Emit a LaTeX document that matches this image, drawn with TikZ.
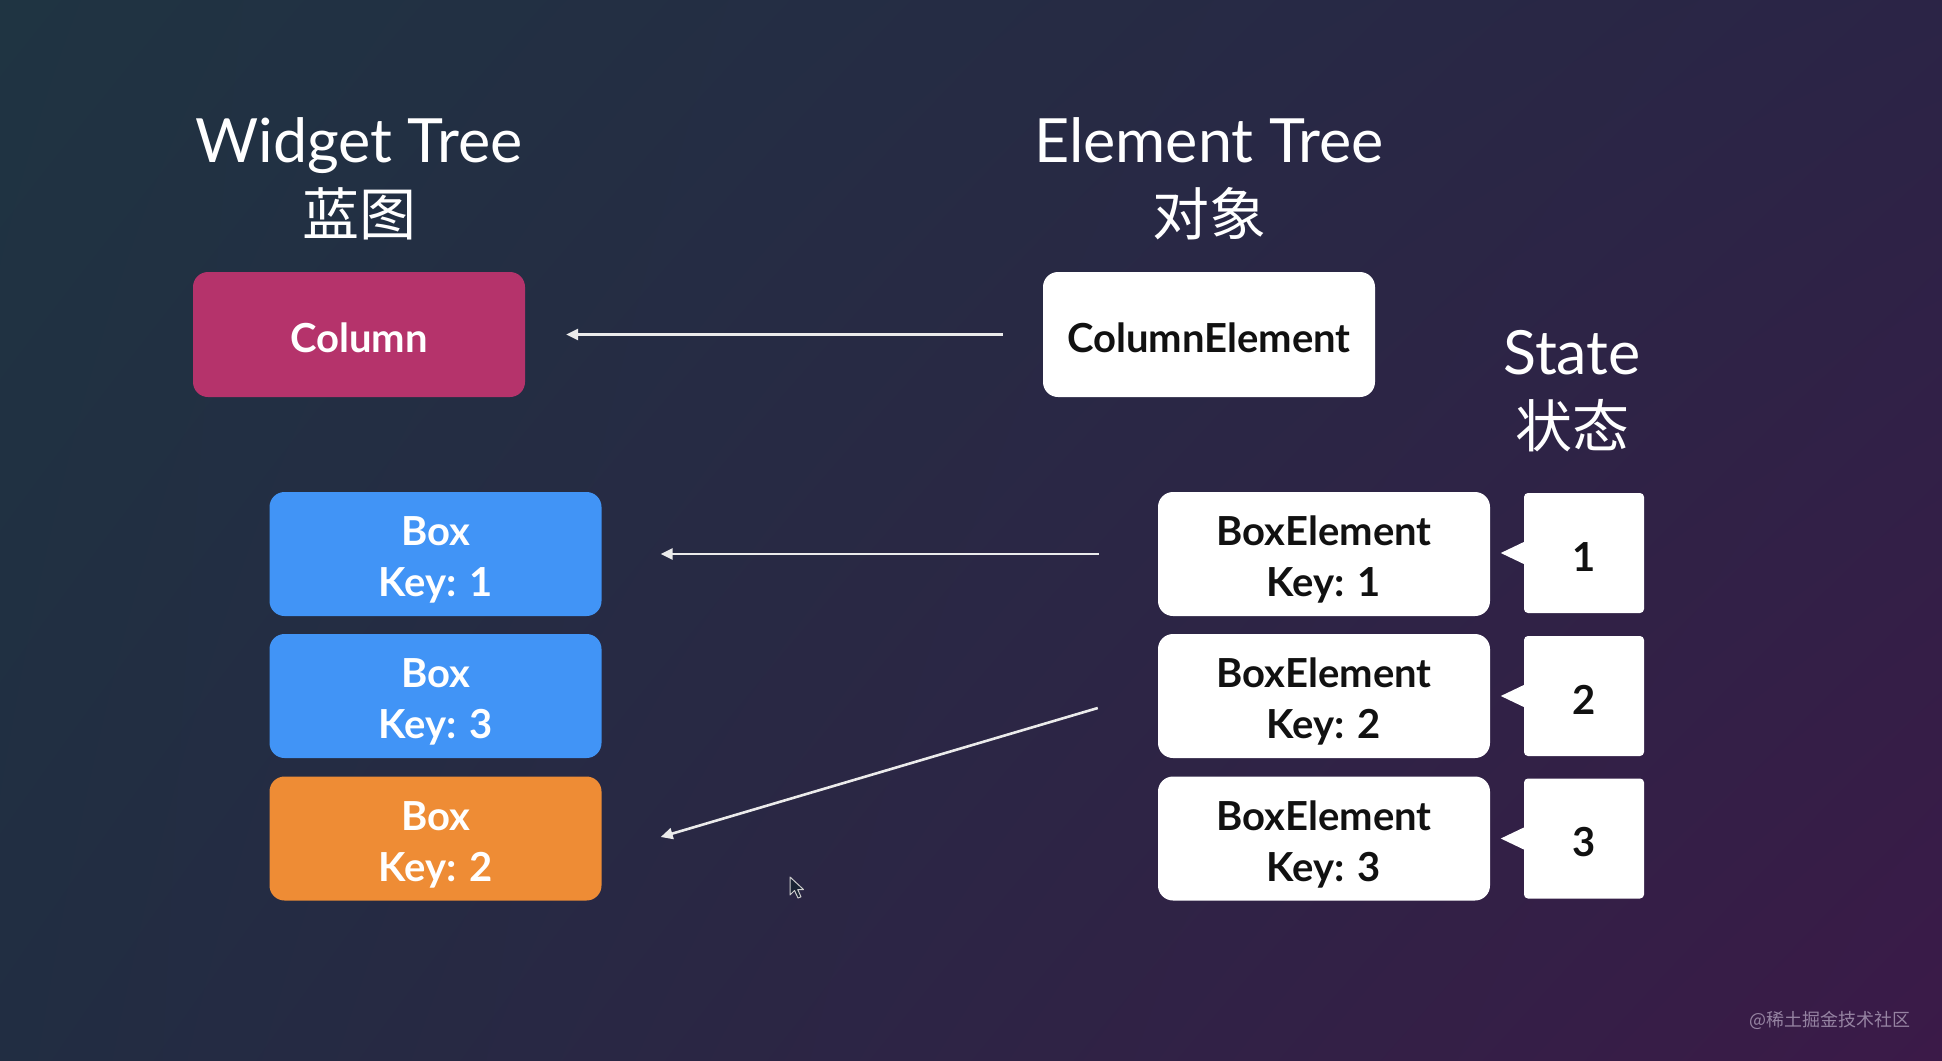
\documentclass[tikz,border=0pt]{standalone}
\usepackage{fontspec}
\setmainfont{Lato}
\newfontfamily\cjk{Noto Sans CJK SC}
\usetikzlibrary{arrows.meta,shadings,calc}
\definecolor{bgUL}{HTML}{1F3442}
\definecolor{bgUR}{HTML}{2B2446}
\definecolor{bgLL}{HTML}{212D42}
\definecolor{bgLR}{HTML}{3B1A48}
\definecolor{colmag}{HTML}{B5336B}
\definecolor{boxblue}{HTML}{4194F6}
\definecolor{boxorange}{HTML}{EE8C35}
\definecolor{inktext}{HTML}{111111}
\definecolor{wmark}{HTML}{A08FAC}
\newcommand{\twolines}[2]{\rule{0pt}{41pt}#1\\#2}
\newcommand{\oneline}[1]{\rule{0pt}{36pt}#1}
\tikzset{
  titletext/.style={text=white,font=\fontsize{61}{61}\selectfont,anchor=base},
  cjktext/.style={text=white,font=\cjk\fontsize{57}{57}\selectfont,anchor=base},
  treebox/.style={rounded corners=15pt,minimum width=332pt,minimum height=124pt,inner sep=0pt,
    font=\bfseries\fontsize{40}{51}\selectfont,align=center},
  widgetbox/.style={treebox,text=white},
  elembox/.style={treebox,fill=white,text=inktext},
  statebox/.style={rounded corners=4pt,fill=white,minimum width=120pt,minimum height=120pt,inner sep=0pt,
    font=\bfseries\fontsize{40}{40}\selectfont,text=inktext},
  conn/.style={draw=white!92!black,line width=2.6pt,-{Triangle[length=12pt,width=11pt]}}
}
\begin{document}
\begin{tikzpicture}[x=1pt,y=-1pt]
\useasboundingbox (0,0) rectangle (1942,1060);
\shade[upper left=bgUL,upper right=bgUR,lower left=bgLL,lower right=bgLR] (0,0) rectangle (1942,1060);

% titles
\node[titletext] (wt) at (359,162) {Widget Tree};
\node[cjktext] (wtc) at (359,235) {蓝图};
\node[titletext] (et) at (1209,162) {Element Tree};
\node[cjktext] (etc) at (1209,235) {对象};
\node[titletext] (st) at (1572,374) {State};
\node[cjktext] (stc) at (1572,447) {状态};

% widget tree
\node[widgetbox,fill=colmag,minimum height=125pt] (col) at (359,334.5) {\oneline{Column}};
\node[widgetbox,fill=boxblue] (b1) at (435.5,554) {\twolines{Box}{Key: 1}};
\node[widgetbox,fill=boxblue] (b3) at (435.5,696) {\twolines{Box}{Key: 3}};
\node[widgetbox,fill=boxorange] (b2) at (435.5,838.5) {\twolines{Box}{Key: 2}};

% element tree
\node[elembox,minimum height=125pt] (ce) at (1209,334.5) {\oneline{ColumnElement}};
\node[elembox] (be1) at (1324,554) {\twolines{BoxElement}{Key: 1}};
\node[elembox] (be2) at (1324,696) {\twolines{BoxElement}{Key: 2}};
\node[elembox] (be3) at (1324,838.5) {\twolines{BoxElement}{Key: 3}};

% states
\foreach \n/\y in {1/553,2/696,3/838.5}{
  \node[statebox] (s\n) at (1584,\y) {\rule{0pt}{36pt}\n};
  \fill[white] ([yshift=-11pt]s\n.west) -- ([xshift=-23pt]s\n.west) -- ([yshift=11pt]s\n.west) -- cycle;
}

% connectors
\draw[conn,shorten <=40pt,shorten >=41pt] (ce.west) -- (col.east);
\draw[conn,shorten <=59pt,shorten >=59pt] (be1.west) -- (b1.east);
\draw[conn] ($(be2.west)+(-60,12)$) -- ($(b2.east)+(59,-1.5)$);

% mouse cursor
\draw[fill=bgLL!80!black,draw=white!80!black,line width=1pt,line join=round]
  (790,877) -- (790,895) -- (794.5,890.5) -- (798,898) -- (801,896.8) -- (797.7,889.5) -- (803.5,889.5) -- cycle;

% watermark
\node[text=wmark,opacity=0.9,font=\cjk\fontsize{18}{18}\selectfont,anchor=east] (wm) at (1914,1020) {@稀土掘金技术社区};
\end{tikzpicture}
\end{document}
